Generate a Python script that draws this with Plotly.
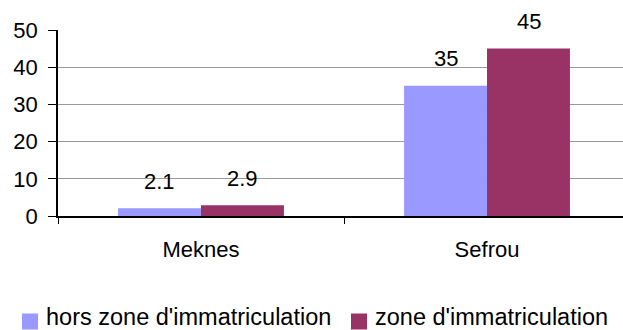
import plotly.graph_objects as go

categories = ["Meknes", "Sefrou"]
series_names = ["hors zone d'immatriculation", "zone d'immatriculation"]
hors_zone = [2.1, 35]
zone = [2.9, 45]
y_ticks = [0, 10, 20, 30, 40, 50]

colors = ["#9999FF", "#993366"]
font = dict(family="Liberation Sans, Arial, sans-serif", size=22, color="black")

W, H = 623, 330
ML, MT = 58, 30


def px_x(px):
    return (px - ML) / (W - ML)


def px_y(py):
    return (H - py) / (H - MT)


fig = go.Figure()
for name, vals, col in zip(series_names, [hors_zone, zone], colors):
    fig.add_trace(go.Bar(x=categories, y=vals, name=name,
                         marker=dict(color=col, line=dict(width=0))))

# value labels above each bar
offsets = [-41.5, 41.5]
for vals, dx in zip([hors_zone, zone], offsets):
    for cat, v in zip(categories, vals):
        fig.add_annotation(x=cat, y=v, text=f"{v:g}", showarrow=False,
                           xshift=dx, yshift=27, yanchor="middle", font=font)

# legend row along the bottom edge
legend_x = [22, 351]
for name, col, lx in zip(series_names, colors, legend_x):
    fig.add_shape(type="rect", xref="paper", yref="paper",
                  x0=px_x(lx), x1=px_x(lx + 16), y0=px_y(329.5), y1=px_y(313.5),
                  fillcolor=col, line=dict(width=0))
    fig.add_annotation(xref="paper", yref="paper", x=px_x(lx + 22), y=px_y(317),
                       xanchor="left", yanchor="middle", text=name, showarrow=False,
                       font=dict(family=font["family"], size=23.5, color="black"))

fig.update_layout(
    template="none",
    width=W, height=H,
    margin=dict(l=ML, r=0, t=MT, b=0, autoexpand=False),
    paper_bgcolor="white", plot_bgcolor="white",
    barmode="group", bargap=0.42, bargroupgap=0,
    font=font,
    showlegend=False,
    xaxis=dict(range=[-0.5, 1.4755], showline=True, linecolor="black", linewidth=1.5,
               ticks="outside", ticklen=6, tickcolor="black", tickson="boundaries",
               ticklabelstandoff=13, showgrid=False, zeroline=False, automargin=False),
    yaxis=dict(domain=[px_y(216), 1], range=[0, 50], tickvals=y_ticks,
               showline=True, linecolor="black", linewidth=1.5,
               ticks="outside", ticklen=8, tickcolor="black", ticklabelstandoff=6,
               showgrid=True, gridcolor="#999999", gridwidth=1.2, zeroline=False,
               automargin=False),
)

fig.write_html("out.html")
